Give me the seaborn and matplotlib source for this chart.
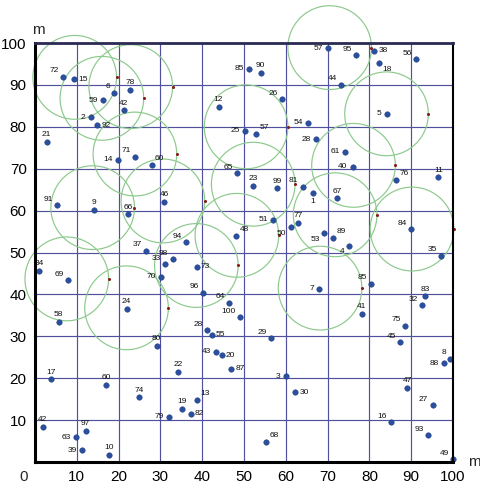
import matplotlib
matplotlib.use("Agg")
import matplotlib.pyplot as plt
from matplotlib.patches import Circle
import seaborn as sns
import pandas as pd

# ---- data ----
labels = ["72", "15", "6", "78", "59", "42", "2", "92", "21", "14", "71", "60",
          "85", "90", "12", "26", "25", "57", "54", "28", "65", "23", "99", "81",
          "1", "51", "77", "50", "48", "94", "98", "33", "70", "73", "96", "64",
          "100", "7", "91", "9", "66", "46", "37", "34", "69", "58", "24", "80",
          "28", "55", "29", "43", "20", "87", "22", "3", "30", "13", "19", "79",
          "82", "68", "17", "60", "74", "42", "97", "63", "39", "10", "67", "53",
          "89", "4", "84", "35", "85", "83", "32", "41", "76", "11", "57", "95",
          "38", "18", "56", "44", "5", "61", "40", "75", "45", "8", "88", "47",
          "27", "16", "93", "49"]
xs = [6.8, 9.3, 19.0, 22.8, 16.2, 21.2, 13.3, 14.9, 2.8, 19.9, 24.0, 27.9,
      51.3, 54.0, 43.9, 59.2, 50.2, 52.9, 65.2, 67.2, 48.3, 52.1, 58.0, 64.0,
      66.4, 56.9, 63.0, 61.2, 48.1, 36.1, 32.9, 31.2, 30.1, 38.7, 40.1, 46.5,
      49.0, 68.0, 5.3, 14.0, 22.3, 30.9, 26.5, 1.0, 8.0, 5.7, 21.9, 29.1,
      41.1, 42.3, 56.4, 43.3, 44.7, 47.0, 34.3, 60.0, 62.2, 38.8, 35.1, 32.1,
      37.3, 55.3, 3.8, 17.0, 24.9, 1.8, 12.1, 9.8, 11.2, 17.8, 72.2, 69.1,
      71.4, 75.1, 89.9, 97.1, 80.5, 93.3, 92.5, 78.2, 86.4, 96.5, 70.2, 76.8,
      81.2, 82.2, 91.1, 73.2, 84.1, 74.2, 76.0, 88.5, 87.3, 99.4, 97.9, 89.0,
      95.1, 85.2, 94.0, 100.0]
ys = [92.0, 91.3, 88.1, 88.9, 86.3, 83.9, 82.3, 80.4, 76.4, 72.1, 72.9, 71.0,
      93.9, 92.9, 84.8, 86.6, 79.1, 78.4, 81.0, 77.0, 68.9, 65.9, 65.3, 65.7,
      64.1, 57.8, 57.0, 56.0, 54.0, 52.4, 48.4, 47.2, 44.2, 46.6, 40.4, 38.0,
      34.5, 41.3, 61.3, 60.1, 59.1, 62.0, 50.4, 45.6, 43.4, 33.4, 36.5, 27.7,
      31.5, 30.4, 29.5, 26.3, 25.5, 22.3, 21.5, 20.5, 16.7, 14.8, 12.6, 10.8,
      11.5, 4.8, 19.7, 18.4, 15.4, 8.4, 7.5, 5.9, 2.8, 1.7, 62.9, 54.6,
      53.5, 51.6, 55.5, 49.2, 42.6, 39.5, 37.4, 35.3, 67.3, 67.9, 98.7, 97.1,
      98.2, 95.2, 96.1, 90.0, 83.1, 74.1, 70.5, 32.5, 28.6, 24.7, 23.6, 17.6,
      13.5, 9.5, 6.4, 0.7]

# coverage circles (centre x, centre y), radius in metres
circle_x = [9.5, 16.0, 22.9, 23.9, 13.8, 30.6, 7.6, 21.9, 38.6, 48.3, 52.2,
            50.5, 70.5, 84.1, 76.2, 71.8, 90.2, 68.2]
circle_y = [91.8, 86.8, 89.6, 73.5, 60.7, 62.3, 43.7, 36.8, 46.9, 54.1, 66.3,
            80.0, 98.9, 83.1, 70.8, 59.0, 55.6, 41.5]
radius = 10

ticks = [0, 10, 20, 30, 40, 50, 60, 70, 80, 90, 100]

# label placement codes (style only)
place = ["UL", "R", "UL", "U", "L", "U", "L", "R", "U", "L", "UL", "UR",
         "L", "U", "U", "UL", "L", "UR", "L", "L", "UL", "U", "U", "UL",
         "D", "L", "U", "DL", "UR", "UL", "UL", "UL", "L", "R", "UL", "UL",
         "UL", "L", "UL", "U", "U", "U", "UL", "U", "UL", "U", "U", "U",
         "UL", "R", "UL", "L", "R", "R", "U", "L", "R", "UR", "U", "L",
         "R", "UR", "U", "U", "U", "U", "U", "L", "L", "U", "U", "DL",
         "UR", "DL", "UL", "UL", "UL", "U", "UL", "U", "UR", "U", "L", "UL",
         "R", "DR", "UL", "UL", "L", "L", "L", "UL", "UL", "UL", "L", "U",
         "UL", "UL", "UL", "UL"]

df = pd.DataFrame({"x": xs, "y": ys, "label": labels})

sns.set_style("white")
plt.rcParams["font.family"] = ["Liberation Sans", "DejaVu Sans"]

fig = plt.figure(figsize=(4.81, 4.84), dpi=100)
ax = fig.add_axes([35 / 481, 22 / 484, 418 / 481, 419 / 484])

grid_c = "#50509c"
for t in ticks[1:-1]:
    ax.axvline(t, color=grid_c, lw=0.85, zorder=1)
    ax.axhline(t, color=grid_c, lw=0.85, zorder=1)

for cx, cy in zip(circle_x, circle_y):
    ax.add_patch(Circle((cx, cy), radius, fill=False, ec="#8cc98c", lw=0.85,
                        zorder=2, clip_on=False))
    ax.plot([cx + radius], [cy], marker="o", ms=1.2, color="#8b1a1a",
            zorder=3, clip_on=False)

sns.scatterplot(data=df, x="x", y="y", ax=ax, color="#2a4f9e", s=16,
                edgecolor="#1d3c80", linewidth=0.3, zorder=4, clip_on=False,
                legend=False)

off = {"UL": (-1.0, 0.6, "right", "bottom"), "U": (0.0, 0.9, "center", "bottom"),
       "UR": (0.8, 0.6, "left", "bottom"), "L": (-1.2, 0.0, "right", "center"),
       "R": (1.0, 0.0, "left", "center"), "D": (0.0, -1.0, "center", "top"),
       "DL": (-1.0, -0.6, "right", "top"), "DR": (0.8, -0.6, "left", "top")}
for x, y, lab, p in zip(xs, ys, labels, place):
    dx, dy, ha, va = off[p]
    ax.text(x + dx, y + dy, lab, fontsize=6, ha=ha, va=va, color="#111111",
            zorder=5)

ax.set_xlim(0, 100)
ax.set_ylim(0, 100)
ax.set_xticks(ticks[1:])
ax.set_yticks(ticks[1:])
ax.set_xticklabels([str(t) for t in ticks[1:]])
ax.set_yticklabels([str(t) for t in ticks[1:]])
ax.tick_params(axis="both", labelsize=11, length=3, width=1, direction="out",
               colors="black", pad=3)
ax.set_xlabel("")
ax.set_ylabel("")

for side in ["left", "bottom"]:
    ax.spines[side].set_color("black")
    ax.spines[side].set_linewidth(2.2)
ax.spines["top"].set_color("#2a2a55")
ax.spines["top"].set_linewidth(2.0)
ax.spines["right"].set_color("black")
ax.spines["right"].set_linewidth(1.5)
for s in ax.spines.values():
    s.set_visible(True)
    s.set_zorder(6)

ax.text(-0.027, -0.019, "0", transform=ax.transAxes, fontsize=11,
        ha="center", va="top")
ax.text(0.008, 1.015, "m", transform=ax.transAxes, fontsize=11,
        ha="center", va="bottom")
ax.text(1.05, 0.0, "m", transform=ax.transAxes, fontsize=11,
        ha="center", va="center")

fig.savefig("out.png", dpi=100)
